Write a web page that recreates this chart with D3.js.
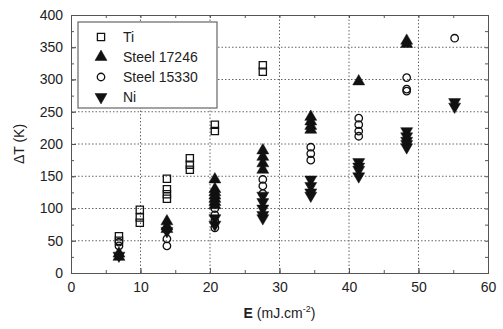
<!DOCTYPE html>
<html>
<head>
<meta charset="utf-8">
<script src="https://cdn.jsdelivr.net/npm/d3@7"></script>
<style>
  body { margin: 0; background: #fff; }
  text { font-family: "Liberation Sans", Arial, sans-serif; fill: #222; }
</style>
</head>
<body>
<svg id="chart" width="503" height="329"></svg>
<script>
// data: [E, dT]
var ti = [[6.9, 57], [6.9, 50], [9.9, 98], [9.9, 86], [9.9, 78],
          [13.8, 146], [13.8, 130], [13.8, 122], [13.8, 115],
          [17.1, 178], [17.1, 168], [17.1, 160],
          [20.7, 230], [20.7, 220], [27.6, 322], [27.6, 312]];
var steel17246 = [[6.9, 30], [6.9, 25], [13.8, 80], [13.8, 72], [13.8, 68],
          [20.7, 145], [20.7, 130], [20.7, 125], [20.7, 120], [20.7, 115], [20.7, 110], [20.7, 105],
          [27.6, 190], [27.6, 180], [27.6, 170], [27.6, 160],
          [34.5, 242], [34.5, 235], [34.5, 228], [34.5, 222],
          [41.4, 297], [48.3, 360], [48.3, 355]];
var steel15330 = [[6.9, 48], [6.9, 42], [13.8, 53], [13.8, 42],
          [20.7, 100], [20.7, 90], [20.7, 80], [20.7, 70],
          [27.6, 145], [27.6, 135], [27.6, 123],
          [34.5, 195], [34.5, 185], [34.5, 175],
          [41.4, 240], [41.4, 230], [41.4, 220], [41.4, 212],
          [48.3, 303], [48.3, 285], [48.3, 282], [55.2, 364]];
var ni = [[6.9, 27], [13.8, 65], [20.7, 85], [20.7, 75],
          [27.6, 120], [27.6, 110], [27.6, 100], [27.6, 90], [27.6, 85],
          [34.5, 145], [34.5, 135], [34.5, 125], [34.5, 120],
          [41.4, 172], [41.4, 165], [41.4, 160], [41.4, 150],
          [48.3, 220], [48.3, 212], [48.3, 205], [48.3, 200], [48.3, 195],
          [55.2, 265], [55.2, 258]];
var seriesNames = ["Ti", "Steel 17246", "Steel 15330", "Ni"];
var xTicks = [0, 10, 20, 30, 40, 50, 60];
var yTicks = [0, 50, 100, 150, 200, 250, 300, 350, 400];

var svg = d3.select("#chart");
var margin = {left: 71, right: 15, top: 15, bottom: 56};
var W = 503, H = 329;

var x = d3.scaleLinear().domain([0, 60]).range([margin.left, W - margin.right]);
var y = d3.scaleLinear().domain([0, 400]).range([H - margin.bottom, margin.top]);

// dotted grid
var grid = svg.append("g").attr("stroke", "#666").attr("stroke-width", 1).attr("stroke-dasharray", "1.5,2");
xTicks.slice(1, -1).forEach(function (t) {
    grid.append("line").attr("x1", x(t)).attr("x2", x(t)).attr("y1", y(0)).attr("y2", y(400));
});
yTicks.slice(1, -1).forEach(function (t) {
    grid.append("line").attr("x1", x(0)).attr("x2", x(60)).attr("y1", y(t)).attr("y2", y(t));
});

// axes, ticks inward, on all four sides
var minorX = d3.range(0, 61, 5), minorY = d3.range(0, 401, 25);
svg.append("g").attr("transform", "translate(0," + y(0) + ")")
    .call(d3.axisBottom(x).tickValues(minorX).tickSize(-3).tickFormat(""));
svg.append("g").attr("transform", "translate(0," + y(0) + ")")
    .call(d3.axisBottom(x).tickValues(xTicks).tickSize(-5).tickPadding(9));
svg.append("g").attr("transform", "translate(0," + y(400) + ")")
    .call(d3.axisTop(x).tickValues(minorX).tickSize(-3).tickFormat(""));
svg.append("g").attr("transform", "translate(" + x(0) + ",0)")
    .call(d3.axisLeft(y).tickValues(minorY).tickSize(-3).tickFormat(""));
svg.append("g").attr("transform", "translate(" + x(0) + ",0)")
    .call(d3.axisLeft(y).tickValues(yTicks).tickSize(-5).tickPadding(8));
svg.append("g").attr("transform", "translate(" + x(60) + ",0)")
    .call(d3.axisRight(y).tickValues(minorY).tickSize(-3).tickFormat(""));

svg.selectAll(".domain").attr("stroke", "#555");
svg.selectAll(".tick line").attr("stroke", "#555");
svg.selectAll(".tick text").style("font-size", "14px").attr("fill", "#222");

// markers
var sq = d3.symbol().type(d3.symbolSquare).size(52);
var up = d3.symbol().type(d3.symbolTriangle).size(62);
var circ = d3.symbol().type(d3.symbolCircle).size(44);

function drawSeries(data, sym, filled, rot) {
    svg.append("g").selectAll("path").data(data).enter().append("path")
        .attr("d", sym)
        .attr("transform", function (d) {
            return "translate(" + x(d[0]) + "," + y(d[1]) + ")" + (rot ? " rotate(180)" : "");
        })
        .attr("fill", filled ? "#111" : "none")
        .attr("stroke", "#111")
        .attr("stroke-width", filled ? 0.5 : 1.3);
}
drawSeries(ti, sq, false, false);
drawSeries(steel17246, up, true, false);
drawSeries(steel15330, circ, false, false);
drawSeries(ni, up, true, true);

// legend
var leg = svg.append("g");
leg.append("rect").attr("x", 78).attr("y", 22).attr("width", 139).attr("height", 86)
    .attr("fill", "#fff").attr("stroke", "#666").attr("stroke-width", 1.2);
var legSyms = [[sq, false, false], [up, true, false], [circ, false, false], [up, true, true]];
seriesNames.forEach(function (name, i) {
    var ly = 37 + i * 20;
    leg.append("path").attr("d", legSyms[i][0])
        .attr("transform", "translate(101," + ly + ")" + (legSyms[i][2] ? " rotate(180)" : ""))
        .attr("fill", legSyms[i][1] ? "#111" : "none")
        .attr("stroke", "#111").attr("stroke-width", legSyms[i][1] ? 0.5 : 1.3);
    leg.append("text").attr("x", 123).attr("y", ly + 5).style("font-size", "14px").text(name);
});

// axis titles
var xt = svg.append("text").attr("x", x(30)).attr("y", 318).attr("text-anchor", "middle").style("font-size", "14px");
xt.append("tspan").style("font-weight", "bold").text("E");
xt.append("tspan").text(" (mJ.cm");
xt.append("tspan").attr("dy", -6).style("font-size", "9px").text("-2");
xt.append("tspan").attr("dy", 6).text(")");

svg.append("text").attr("transform", "translate(24," + y(200) + ") rotate(-90)")
    .attr("text-anchor", "middle").style("font-size", "14px").text("ΔT (K)");
</script>
</body>
</html>
